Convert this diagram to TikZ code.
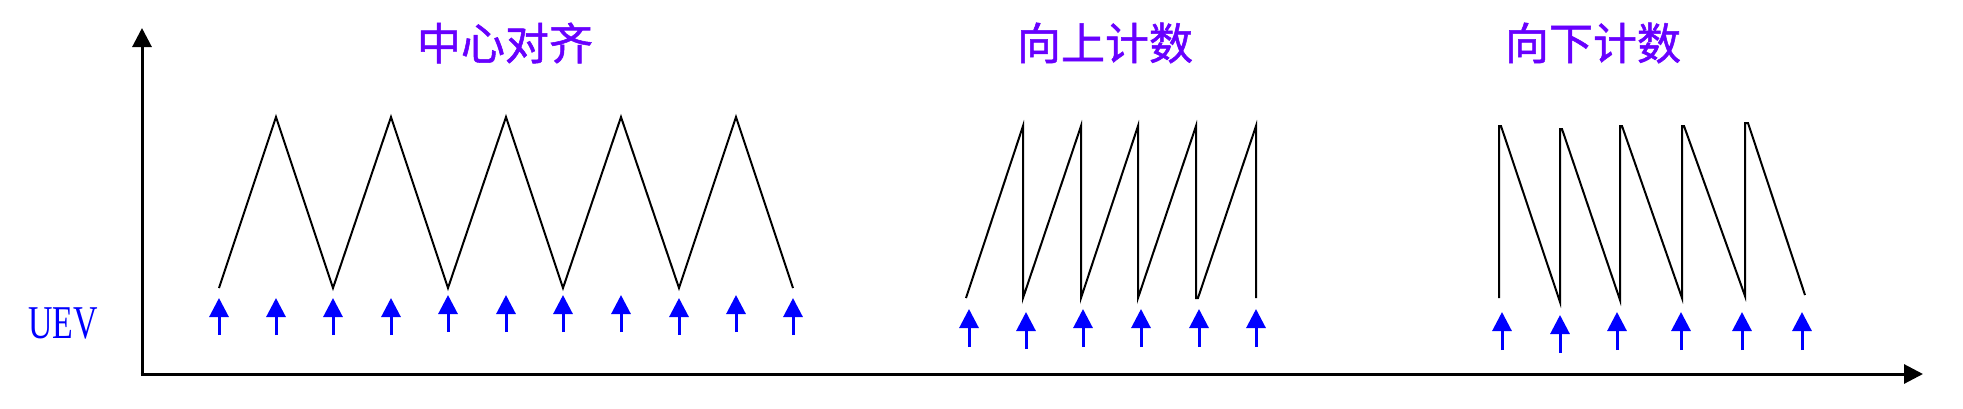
\documentclass[tikz,border=0pt]{standalone}
\usepackage{fontspec}
\setmainfont{Liberation Serif}
\newfontfamily\cjk[FakeBold=1.2]{Noto Sans CJK SC}
\usetikzlibrary{arrows.meta}
\definecolor{ttl}{RGB}{104,0,255}
\definecolor{uev}{RGB}{0,0,255}
\tikzset{
  axis/.style={line width=3pt,-{Triangle[width=19pt,length=19pt]}},
  wave/.style={line width=2pt,line join=miter,black},
  uevarrow/.style={line width=3pt,uev,-{Triangle[width=19pt,length=19pt]}},
  title/.style={font=\cjk\fontsize{44}{46}\selectfont,text=ttl,inner sep=0pt}
}
\begin{document}
\begin{tikzpicture}[x=1pt,y=-1pt]
\useasboundingbox (0,0) rectangle (1963,408);
% axes
\coordinate (O) at (142,374);
\coordinate (Ytop) at (142,28);
\coordinate (Xend) at (1923,374);
\draw[axis] (O) -- (Ytop);
\draw[axis] ([xshift=-1.5pt]O) -- (Xend);
% titles
\node[title] (t1) at (505,43) {中心对齐};
\node[title] (t2) at (1105,43) {向上计数};
\node[title] (t3) at (1593,43) {向下计数};
% UEV label
\node[inner sep=0pt,text=uev] (uev) at (63,323) {\scalebox{0.72}[1]{\fontsize{47}{49}\selectfont UEV}};
% center aligned triangle
\draw[wave] (219,288) -- (276,117) -- (333,288) -- (391,117) -- (448,288)
  -- (506,117) -- (563,288) -- (621,117) -- (679,288) -- (736,117) -- (793,288);
% up counting sawtooth
\draw[wave] (966,298) -- (1023,126) -- (1023,298) -- (1081,126) -- (1081,298)
  -- (1138,126) -- (1138,298) -- (1196,126) -- (1196,298) -- (1198,298) -- (1256,126) -- (1256,298);
% down counting sawtooth
\draw[wave] (1499,298) -- (1499,126) -- (1501,126) -- (1560,302) -- (1560,129) -- (1562,129)
  -- (1620,300) -- (1620,126) -- (1622,126) -- (1682,298) -- (1682,126) -- (1684,126)
  -- (1745,296) -- (1745,123) -- (1748,123) -- (1805,295);
% UEV arrows, center aligned
\foreach \x/\t/\b in {219/298/335,276/298/335,333/298/335,391/298/335,448/295/332,506/295/332,563/295/332,621/295/332,679/298/335,736/295/332,793/298/335}
  \draw[uevarrow] (\x,\b) -- (\x,\t);
% UEV arrows, up counting
\foreach \x/\t/\b in {969/309/347,1026/312/349,1083/309/347,1141/309/347,1199/309/347,1256/309/347}
  \draw[uevarrow] (\x,\b) -- (\x,\t);
% UEV arrows, down counting
\foreach \x/\t/\b in {1502/312/350,1560/315/353,1617/312/350,1681/312/350,1742/312/350,1802/312/350}
  \draw[uevarrow] (\x,\b) -- (\x,\t);
\end{tikzpicture}
\end{document}
